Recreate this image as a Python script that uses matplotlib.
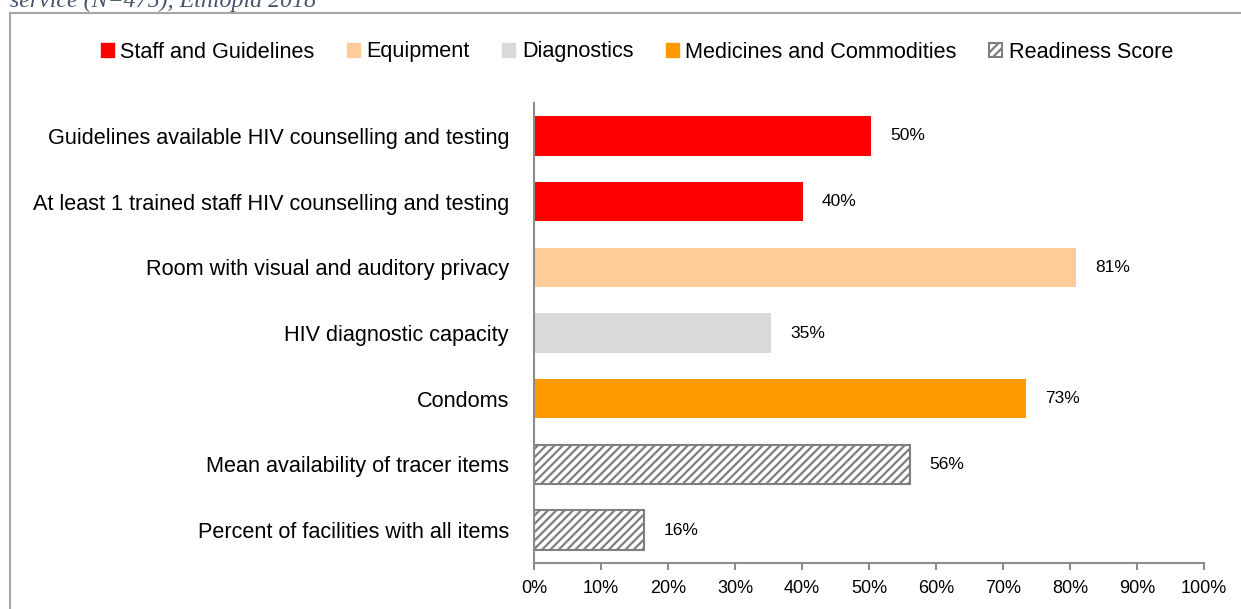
"""HIV counselling and testing service readiness, Ethiopia 2018."""

import matplotlib.pyplot as plt
from matplotlib.patches import Patch
from matplotlib.lines import Line2D
from matplotlib.ticker import PercentFormatter

plt.rcParams["font.family"] = ["Liberation Sans", "DejaVu Sans"]
plt.rcParams["hatch.linewidth"] = 1.6
plt.rcParams["hatch.color"] = "#7f7f7f"

# ---------------------------------------------------------------------------
# Data
# ---------------------------------------------------------------------------
items = [
    "Guidelines available HIV counselling and testing",
    "At least 1 trained staff HIV counselling and testing",
    "Room with visual and auditory privacy",
    "HIV diagnostic capacity",
    "Condoms",
    "Mean availability of tracer items",
    "Percent of facilities with all items",
]
values = [50.3, 40.1, 80.9, 35.3, 73.4, 56.1, 16.4]
value_labels = ["50%", "40%", "81%", "35%", "73%", "56%", "16%"]
groups = ["Staff and Guidelines", "Staff and Guidelines", "Equipment",
          "Diagnostics", "Medicines and Commodities", "Readiness Score",
          "Readiness Score"]
group_names = ["Staff and Guidelines", "Equipment", "Diagnostics",
               "Medicines and Commodities", "Readiness Score"]

group_style = {
    "Staff and Guidelines": dict(color="#ff0000"),
    "Equipment": dict(color="#ffcc99"),
    "Diagnostics": dict(color="#d9d9d9"),
    "Medicines and Commodities": dict(color="#ff9900"),
    "Readiness Score": dict(facecolor="white", edgecolor="#7f7f7f",
                            hatch="////", linewidth=1.5),
}

# ---------------------------------------------------------------------------
# Figure
# ---------------------------------------------------------------------------
W, H = 1241, 609
fig = plt.figure(figsize=(W / 100, H / 100), dpi=100)
ax = fig.add_axes([534 / W, 1 - 563 / H, (1204 - 534) / W, (563 - 103) / H])

ypos = list(range(len(items)))
for y, v, g, lab in zip(ypos, values, groups, value_labels):
    bars = ax.barh(y, v, height=0.6, **group_style[g])
    ax.bar_label(bars, labels=[lab], padding=14, fontsize=12.5)

ax.set_ylim(len(items) - 0.5, -0.5)
ax.set_xlim(0, 100)
ax.set_yticks(ypos)
ax.set_yticklabels(items, fontsize=15.6)
ax.set_xticks(range(0, 101, 10))
ax.xaxis.set_major_formatter(PercentFormatter(decimals=0))
ax.tick_params(axis="x", labelsize=13, length=5, width=1.5,
               color="#8c8c8c", direction="out", pad=7)
ax.tick_params(axis="y", length=0, pad=18)

for side in ("top", "right"):
    ax.spines[side].set_visible(False)
for side in ("left", "bottom"):
    ax.spines[side].set_color("#8c8c8c")
    ax.spines[side].set_linewidth(1.5)

# legend across the top
handles = [Patch(label=g, **group_style[g]) for g in group_names]
fig.legend(handles=handles, loc="center", ncol=5, frameon=False,
           bbox_to_anchor=(637 / W, 1 - 52 / H), fontsize=15.6,
           handlelength=0.6, handleheight=0.6, handletextpad=0.3,
           columnspacing=1.5)

# outer frame (left and top edges visible) and clipped caption
fx, fy = 10 / W, 1 - 13 / H
fig.add_artist(Line2D([fx, fx], [0, fy], color="#a6a6a6", lw=1.5))
fig.add_artist(Line2D([fx, 1], [fy, fy], color="#a6a6a6", lw=1.5))
fig.text(10 / W, 1 - 7 / H, "service (N=475), Ethiopia 2018",
         family="Liberation Serif", style="italic", fontsize=17.2,
         color="#44546a", va="baseline", ha="left")

fig.savefig("out.png", dpi=100)
